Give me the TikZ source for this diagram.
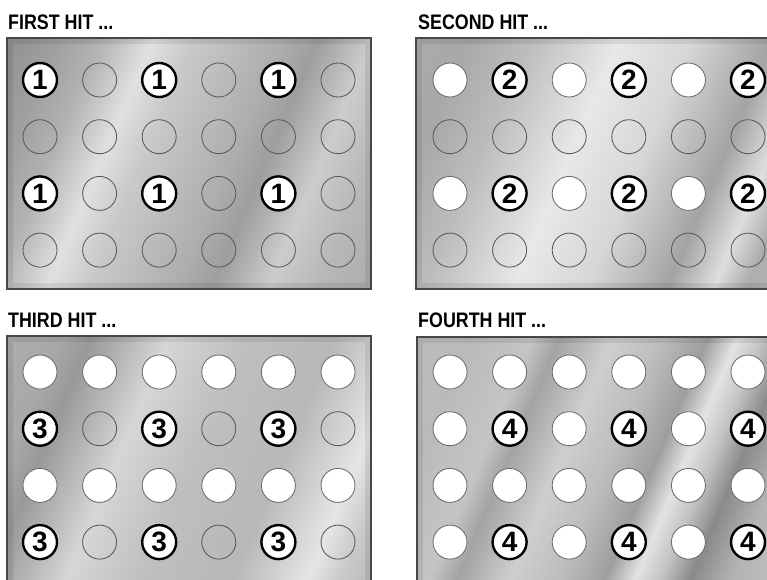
\documentclass[tikz,border=0pt]{standalone}
\usepackage{fontspec}
\setmainfont{Liberation Sans}
\newfontfamily\titlefont[FakeStretch=0.85]{Liberation Sans Bold}
\newfontfamily\digitfont{Liberation Sans Bold}
\pgfdeclarehorizontalshading{bgA}{700bp}{color(0bp)=(white!56!black); color(129bp)=(white!56!black); color(183bp)=(white!63!black); color(221bp)=(white!70!black); color(268bp)=(white!88!black); color(304bp)=(white!79!black); color(342bp)=(white!74!black); color(387bp)=(white!68!black); color(420bp)=(white!62!black); color(470bp)=(white!80!black); color(517bp)=(white!72!black); color(571bp)=(white!67!black); color(700bp)=(white!67!black)}
\pgfdeclarehorizontalshading{bgB}{700bp}{color(0bp)=(white!67!black); color(129bp)=(white!67!black); color(183bp)=(white!66!black); color(240bp)=(white!74!black); color(321bp)=(white!91!black); color(389bp)=(white!84!black); color(462bp)=(white!64!black); color(504bp)=(white!87!black); color(534bp)=(white!68!black); color(571bp)=(white!71!black); color(700bp)=(white!71!black)}
\pgfdeclarehorizontalshading{bgC}{700bp}{color(0bp)=(white!68!black); color(129bp)=(white!68!black); color(183bp)=(white!66!black); color(212bp)=(white!60!black); color(283bp)=(white!84!black); color(350bp)=(white!75!black); color(435bp)=(white!72!black); color(505bp)=(white!90!black); color(534bp)=(white!79!black); color(571bp)=(white!72!black); color(700bp)=(white!72!black)}
\pgfdeclarehorizontalshading{bgD}{700bp}{color(0bp)=(white!74!black); color(129bp)=(white!74!black); color(183bp)=(white!73!black); color(240bp)=(white!77!black); color(265bp)=(white!64!black); color(313bp)=(white!81!black); color(359bp)=(white!74!black); color(401bp)=(white!62!black); color(428bp)=(white!89!black); color(451bp)=(white!77!black); color(479bp)=(white!54!black); color(516bp)=(white!70!black); color(571bp)=(white!77!black); color(700bp)=(white!77!black)}
\tikzset{
  titletext/.style={anchor=base west, inner sep=0pt, font=\titlefont\fontsize{21}{21}\selectfont},
  panelframe/.style={draw=black!72, line width=1.6pt},
  panelshadow/.style={draw=black, opacity=0.08, line width=6pt},
  hole/.style={circle, minimum size=34pt, inner sep=0pt, draw=black!65, line width=0.85pt},
  whitehole/.style={hole, fill=white, draw=black!58},
  hithole/.style={circle, minimum size=34pt, inner sep=0pt, fill=white, draw=black, line width=2.4pt, font=\digitfont\fontsize{28}{28}\selectfont},
  bgnode/.style={inner sep=0pt, rotate=-23}
}
\begin{document}
\begin{tikzpicture}[x=1pt,y=-1pt]
\useasboundingbox (0,0) rectangle (767,579);
\clip (0,0) rectangle (767,579);
% titles
\node[titletext] (t1) at (8,29) {FIRST HIT ...};
\node[titletext] (t2) at (418,29) {SECOND HIT ...};
\node[titletext] (t3) at (8,327.5) {THIRD HIT ...};
\node[titletext] (t4) at (418,327.5) {FOURTH HIT ...};
% panel backgrounds
\begin{scope}
  \clip (7,38) rectangle ++(364,251);
  \node[bgnode] (bg1) at (189,163.5) {\pgfuseshading{bgA}};
  \draw[panelshadow] (10,41) rectangle ++(358,245);
\end{scope}
\draw[panelframe] (7,38) rectangle ++(364,251);
\begin{scope}
  \clip (416,38) rectangle ++(364,251);
  \node[bgnode] (bg2) at (598,163.5) {\pgfuseshading{bgB}};
  \draw[panelshadow] (419,41) rectangle ++(358,245);
\end{scope}
\draw[panelframe] (416,38) rectangle ++(364,251);
\begin{scope}
  \clip (7,336) rectangle ++(364,251);
  \node[bgnode] (bg3) at (189,461.5) {\pgfuseshading{bgC}};
  \draw[panelshadow] (10,339) rectangle ++(358,245);
\end{scope}
\draw[panelframe] (7,336) rectangle ++(364,251);
\begin{scope}
  \clip (417,337) rectangle ++(364,251);
  \node[bgnode] (bg4) at (599,462.5) {\pgfuseshading{bgD}};
  \draw[panelshadow] (420,340) rectangle ++(358,245);
\end{scope}
\draw[panelframe] (417,337) rectangle ++(364,251);
% panel 1 holes
\foreach \i in {0,...,5}{
  \foreach \j in {0,...,3}{
    \pgfmathsetmacro{\cx}{40+59.6*\i}
    \pgfmathsetmacro{\cy}{80+56.7*\j}
    \ifodd\j\relax
      \node[hole] (a-\i-\j) at (\cx,\cy) {};
    \else
      \ifodd\i\relax
        \node[hole] (a-\i-\j) at (\cx,\cy) {};
      \else
        \node[hithole] (a-\i-\j) at (\cx,\cy) {1};
      \fi
    \fi
  }
}
% panel 2 holes
\foreach \i in {0,...,5}{
  \foreach \j in {0,...,3}{
    \pgfmathsetmacro{\cx}{450+59.6*\i}
    \pgfmathsetmacro{\cy}{80+56.7*\j}
    \ifodd\j\relax
      \node[hole] (b-\i-\j) at (\cx,\cy) {};
    \else
      \ifodd\i\relax
        \node[hithole] (b-\i-\j) at (\cx,\cy) {2};
      \else
        \node[whitehole] (b-\i-\j) at (\cx,\cy) {};
      \fi
    \fi
  }
}
% panel 3 holes
\foreach \i in {0,...,5}{
  \foreach \j in {0,...,3}{
    \pgfmathsetmacro{\cx}{40+59.6*\i}
    \pgfmathsetmacro{\cy}{372+56.7*\j}
    \ifodd\j\relax
      \ifodd\i\relax
        \node[hole] (c-\i-\j) at (\cx,\cy) {};
      \else
        \node[hithole] (c-\i-\j) at (\cx,\cy) {3};
      \fi
    \else
      \node[whitehole] (c-\i-\j) at (\cx,\cy) {};
    \fi
  }
}
% panel 4 holes
\foreach \i in {0,...,5}{
  \foreach \j in {0,...,3}{
    \pgfmathsetmacro{\cx}{450+59.6*\i}
    \pgfmathsetmacro{\cy}{372+56.7*\j}
    \ifodd\j\relax
      \ifodd\i\relax
        \node[hithole] (d-\i-\j) at (\cx,\cy) {4};
      \else
        \node[whitehole] (d-\i-\j) at (\cx,\cy) {};
      \fi
    \else
      \node[whitehole] (d-\i-\j) at (\cx,\cy) {};
    \fi
  }
}
\end{tikzpicture}
\end{document}
